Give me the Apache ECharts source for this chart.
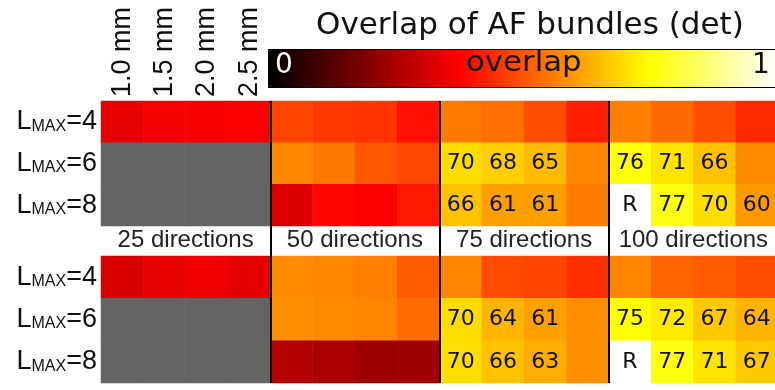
<!DOCTYPE html>
<html>
<head>
<meta charset="utf-8">
<script src="https://cdn.jsdelivr.net/npm/echarts@6/dist/echarts.min.js"></script>
<style>
  html, body { margin: 0; padding: 0; background: #fff; overflow: hidden; }
  #chart { width: 781px; height: 390px; }
</style>
</head>
<body>
<div id="chart"></div>
<script>
const resolutions = ["1.0 mm", "1.5 mm", "2.0 mm", "2.5 mm"];
const directions = ["25 directions", "50 directions", "75 directions", "100 directions"];
const lmax = [4, 6, 8];

// overlap per cell, rows = LMAX 4/6/8, columns = directions x resolution (null = not computed)
const topValues = [
  [0.34, 0.36, 0.365, 0.37, 0.475, 0.458, 0.45, 0.398, 0.555, 0.54, 0.49, 0.42, 0.563, 0.53, 0.49, 0.435],
  [null, null, null, null, 0.575, 0.552, 0.505, 0.48, 0.70, 0.68, 0.65, 0.575, 0.76, 0.71, 0.66, 0.58],
  [null, null, null, null, 0.323, 0.386, 0.37, 0.41, 0.66, 0.61, 0.61, 0.557, 1.0, 0.77, 0.70, 0.60]
];
const bottomValues = [
  [0.32, 0.34, 0.35, 0.335, 0.58, 0.575, 0.563, 0.51, 0.57, 0.486, 0.475, 0.445, 0.57, 0.522, 0.51, 0.49],
  [null, null, null, null, 0.586, 0.58, 0.57, 0.535, 0.70, 0.64, 0.61, 0.586, 0.75, 0.72, 0.67, 0.64],
  [null, null, null, null, 0.265, 0.25, 0.23, 0.235, 0.70, 0.66, 0.63, 0.586, 1.0, 0.77, 0.71, 0.67]
];
const topLabels = [
  ["", "", "", "", "", "", "", "", "", "", "", "", "", "", "", ""],
  ["", "", "", "", "", "", "", "", "70", "68", "65", "", "76", "71", "66", ""],
  ["", "", "", "", "", "", "", "", "66", "61", "61", "", "R", "77", "70", "60"]
];
const bottomLabels = [
  ["", "", "", "", "", "", "", "", "", "", "", "", "", "", "", ""],
  ["", "", "", "", "", "", "", "", "70", "64", "61", "", "75", "72", "67", "64"],
  ["", "", "", "", "", "", "", "", "70", "66", "63", "", "R", "77", "71", "67"]
];

// "hot" colormap sampled every 1/8
const hot = ["#000000", "#550000", "#aa0000", "#ff0000", "#ff5500", "#ffaa00", "#ffff00", "#ffff80", "#ffffff"];

const columns = [];
directions.forEach(d => resolutions.forEach(r => columns.push(d + " " + r)));

function cells(values, labels) {
  const out = [];
  values.forEach((row, y) => row.forEach((v, x) => {
    if (v !== null) out.push([x, y, v, labels[y][x]]);
  }));
  return out;
}
function missing(values) {
  const out = [];
  values.forEach((row, y) => row.forEach((v, x) => {
    if (v === null) out.push([x, y, 0]);
  }));
  return out;
}

const font = "Liberation Sans, Arial, sans-serif";
const cellLabel = {
  show: true,
  formatter: p => p.data[3],
  fontFamily: "DejaVu Sans",
  fontSize: 22,
  color: "#111"
};
const rowAxis = gi => ({
  type: "category", gridIndex: gi, data: lmax, inverse: true,
  axisLine: { show: false }, axisTick: { show: false },
  axisLabel: {
    margin: 4,
    formatter: v => "{a|L}{b|MAX}{a|=" + v + "}",
    rich: {
      a: { fontSize: 27, fontFamily: font, color: "#111" },
      b: { fontSize: 16, fontFamily: font, color: "#111", verticalAlign: "bottom", padding: [0, 0, 1, 0] }
    }
  }
});

const chart = echarts.init(document.getElementById("chart"), null, { renderer: "canvas" });
chart.setOption({
  animation: false,
  title: {
    text: "Overlap of AF bundles (det)",
    left: 311, top: 5,
    textStyle: { fontFamily: "DejaVu Sans", fontSize: 31, fontWeight: "normal", color: "#111" }
  },
  grid: [
    { left: 101, top: 101, width: 677, height: 125 },
    { left: 101, top: 256, width: 677, height: 127 },
    { left: 101, top: 101, width: 677, height: 282 }
  ],
  xAxis: [
    {
      type: "category", gridIndex: 0, data: columns, position: "top",
      axisLine: { show: false }, axisTick: { show: false },
      axisLabel: {
        interval: 0, rotate: -90, margin: 4,
        formatter: (v, i) => (i < resolutions.length ? resolutions[i] : ""),
        fontFamily: font, fontSize: 27, color: "#111"
      }
    },
    { type: "category", gridIndex: 1, data: columns, show: false },
    {
      type: "category", gridIndex: 1, data: directions, position: "top",
      axisLine: { show: false }, axisTick: { show: false },
      axisLabel: { interval: 0, margin: 4, fontFamily: font, fontSize: 24, color: "#222" }
    },
    {
      type: "category", gridIndex: 2, data: directions, z: 10,
      axisLine: { show: false }, axisTick: { show: false }, axisLabel: { show: false },
      splitLine: { show: true, interval: i => i > 0, lineStyle: { color: "#000", width: 2 } }
    }
  ],
  yAxis: [rowAxis(0), rowAxis(1), { type: "value", gridIndex: 2, show: false }],
  visualMap: {
    type: "continuous", min: 0, max: 1, seriesIndex: [0, 1], dimension: 2,
    orient: "horizontal", left: 268, top: 49,
    itemWidth: 37, itemHeight: 508,
    calculable: false, hoverLink: false, text: null,
    padding: 0, borderColor: "#000", borderWidth: 2,
    inRange: { color: hot }
  },
  graphic: [
    { type: "text", z: 100, left: 275, top: 52, style: { text: "0", fill: "#fff", font: "28px DejaVu Sans" } },
    { type: "text", z: 100, left: 466, top: 50, scaleX: 1.1, style: { text: "overlap", fill: "#111", font: "28px DejaVu Sans" } },
    { type: "text", z: 100, left: 752, top: 52, style: { text: "1", fill: "#111", font: "28px DejaVu Sans" } }
  ],
  series: [
    { type: "heatmap", xAxisIndex: 0, yAxisIndex: 0, data: cells(topValues, topLabels), label: cellLabel },
    { type: "heatmap", xAxisIndex: 1, yAxisIndex: 1, data: cells(bottomValues, bottomLabels), label: cellLabel },
    { type: "heatmap", xAxisIndex: 0, yAxisIndex: 0, data: missing(topValues), itemStyle: { color: "#646464" } },
    { type: "heatmap", xAxisIndex: 1, yAxisIndex: 1, data: missing(bottomValues), itemStyle: { color: "#646464" } }
  ]
});
</script>
</body>
</html>
